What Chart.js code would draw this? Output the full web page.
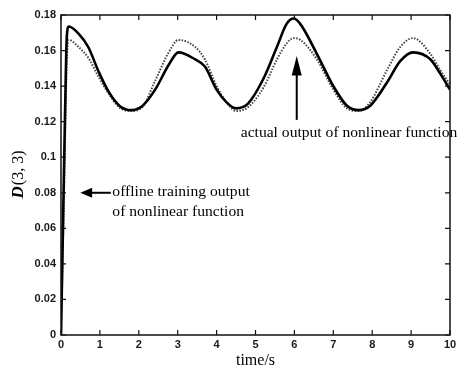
<!DOCTYPE html>
<html>
<head>
<meta charset="utf-8">
<script src="https://cdn.jsdelivr.net/npm/chart.js@4"></script>
<style>
  html, body { margin: 0; padding: 0; background: #fff; }
  #wrap { width: 468px; height: 370px; }
</style>
</head>
<body>
<div id="wrap"><canvas id="chart" width="468" height="370"></canvas></div>
<script>
// time samples (s)
const times = [0, 0.05, 0.1, 0.15, 0.2, 0.45, 0.7, 0.97, 1.22, 1.5, 1.8, 2.1, 2.42, 2.77, 3.02, 3.45, 3.7, 4.0, 4.25, 4.5, 4.8, 5.2, 5.55, 5.8, 5.98, 6.15, 6.58, 7.0, 7.35, 7.65, 7.95, 8.38, 8.72, 9.05, 9.5, 9.75, 10]

// offline training output (solid)
const offlineOutput = [0, 0.06, 0.12, 0.168, 0.1735, 0.1695, 0.162, 0.148, 0.137, 0.129, 0.1265, 0.129, 0.138, 0.152, 0.159, 0.155, 0.151, 0.138, 0.131, 0.1275, 0.13, 0.144, 0.162, 0.175, 0.178, 0.175, 0.158, 0.14, 0.129, 0.1265, 0.129, 0.142, 0.154, 0.159, 0.155, 0.147, 0.138]

// actual output (dotted)
const actualOutput = [0, 0.05, 0.105, 0.155, 0.166, 0.162, 0.156, 0.145, 0.136, 0.128, 0.126, 0.1285, 0.143, 0.159, 0.166, 0.162, 0.155, 0.14, 0.131, 0.126, 0.128, 0.139, 0.155, 0.164, 0.167, 0.166, 0.155, 0.138, 0.1275, 0.126, 0.131, 0.149, 0.162, 0.167, 0.158, 0.149, 0.141]

const xTicks = [0, 1, 2, 3, 4, 5, 6, 7, 8, 9, 10]
const yTicks = [0, 0.02, 0.04, 0.06, 0.08, 0.1, 0.12, 0.14, 0.16, 0.18]

const toPoints = (ys) => times.map((t, i) => ({ x: t, y: ys[i] }))

// frame with inward ticks on all four sides, plus the two annotations
const framePlugin = {
  id: 'frame',
  afterDatasetsDraw(chart) {
    const { ctx, chartArea: a, scales } = chart
    const tick = 5
    ctx.save()
    ctx.strokeStyle = '#111'
    ctx.lineWidth = 1.5
    ctx.strokeRect(a.left, a.top, a.right - a.left, a.bottom - a.top)
    ctx.lineWidth = 1.2
    ctx.beginPath()
    xTicks.forEach(v => {
      const px = scales.x.getPixelForValue(v)
      ctx.moveTo(px, a.bottom); ctx.lineTo(px, a.bottom - tick)
      ctx.moveTo(px, a.top); ctx.lineTo(px, a.top + tick)
    })
    yTicks.forEach(v => {
      const py = scales.y.getPixelForValue(v)
      ctx.moveTo(a.left, py); ctx.lineTo(a.left + tick, py)
      ctx.moveTo(a.right, py); ctx.lineTo(a.right - tick, py)
    })
    ctx.stroke()

    const X = v => scales.x.getPixelForValue(v)
    const Y = v => scales.y.getPixelForValue(v)
    ctx.fillStyle = '#000'
    ctx.strokeStyle = '#000'
    ctx.lineWidth = 2

    // up arrow at t = 6
    const ax = X(6.06)
    ctx.beginPath()
    ctx.moveTo(ax, Y(0.121)); ctx.lineTo(ax, Y(0.15))
    ctx.stroke()
    ctx.beginPath()
    ctx.moveTo(ax, Y(0.157)); ctx.lineTo(ax - 5, Y(0.146)); ctx.lineTo(ax + 5, Y(0.146))
    ctx.closePath(); ctx.fill()

    // left arrow at 0.08
    const ly = Y(0.08)
    ctx.beginPath()
    ctx.moveTo(X(0.75), ly); ctx.lineTo(X(1.28), ly)
    ctx.stroke()
    ctx.beginPath()
    ctx.moveTo(X(0.5), ly); ctx.lineTo(X(0.8), ly - 5); ctx.lineTo(X(0.8), ly + 5)
    ctx.closePath(); ctx.fill()

    ctx.font = '15.6px "Liberation Serif", "Times New Roman", serif'
    ctx.textBaseline = 'middle'
    ctx.textAlign = 'left'
    ctx.fillText('actual output of nonlinear function', X(4.62), Y(0.1135))
    ctx.fillText('offline training output', X(1.32), Y(0.0805))
    ctx.fillText('of nonlinear function', X(1.32), Y(0.0695))

    // y axis title: D(3, 3)
    ctx.translate(19, (a.top + a.bottom) / 2)
    ctx.rotate(-Math.PI / 2)
    ctx.textBaseline = 'middle'
    ctx.font = 'italic bold 17px "Liberation Serif", serif'
    const w1 = ctx.measureText('D').width
    ctx.font = '16px "Liberation Serif", serif'
    const w2 = ctx.measureText('(3, 3)').width
    const start = -(w1 + w2) / 2
    ctx.font = 'italic bold 17px "Liberation Serif", serif'
    ctx.fillText('D', start, 0)
    ctx.font = '16px "Liberation Serif", serif'
    ctx.fillText('(3, 3)', start + w1 + 1, 0)
    ctx.restore()
  }
}

const ctx = document.getElementById('chart').getContext('2d')
new Chart(ctx, {
  type: 'line',
  data: {
    datasets: [
      {
        label: 'offline training output',
        data: toPoints(offlineOutput),
        borderColor: '#000',
        borderWidth: 2.6,
        pointRadius: 0,
        cubicInterpolationMode: 'monotone',
      },
      {
        label: 'actual output',
        data: toPoints(actualOutput),
        borderColor: '#444',
        borderWidth: 2,
        borderDash: [1.5, 1.5],
        pointRadius: 0,
        cubicInterpolationMode: 'monotone',
      },
    ],
  },
  options: {
    responsive: false,
    animation: false,
    layout: { padding: { top: 15, right: 18, left: 0, bottom: 0 } },
    plugins: { legend: { display: false }, tooltip: { enabled: false } },
    scales: {
      x: {
        type: 'linear',
        min: 0,
        max: 10,
        afterBuildTicks: (s) => { s.ticks = xTicks.map(v => ({ value: v })) },
        afterFit: (s) => { s.height = 35 },
        grid: { display: false, drawTicks: false },
        border: { display: false },
        ticks: {
          padding: 3,
          color: '#1a1a1a',
          font: { family: '"Liberation Sans", Arial, sans-serif', size: 11, weight: 'bold' },
        },
        title: {
          display: true,
          text: 'time/s',
          color: '#000',
          padding: { top: 0, bottom: 0 },
          font: { family: '"Liberation Serif", "Times New Roman", serif', size: 16 },
        },
      },
      y: {
        min: 0,
        max: 0.18,
        afterBuildTicks: (s) => { s.ticks = yTicks.map(v => ({ value: v })) },
        afterFit: (s) => { s.width = 61 },
        grid: { display: false, drawTicks: false },
        border: { display: false },
        ticks: {
          padding: 5,
          color: '#1a1a1a',
          font: { family: '"Liberation Sans", Arial, sans-serif', size: 11, weight: 'bold' },
          callback: (v) => String(parseFloat(Number(v).toFixed(2))),
        },
      },
    },
  },
  plugins: [framePlugin],
})
</script>
</body>
</html>
